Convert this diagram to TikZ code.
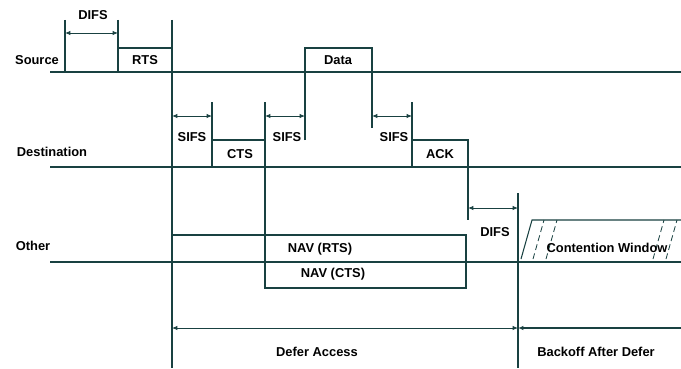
\documentclass[tikz,border=0pt]{standalone}
\usepackage{fontspec}
\setmainfont{Liberation Sans}
\usepackage{tikz}
\usetikzlibrary{arrows.meta}
\definecolor{wire}{RGB}{25,65,65}

\begin{document}
\begin{tikzpicture}[
  x=0.03cm, y=-0.03cm,
  font=\fontsize{11}{13}\selectfont\bfseries,
  ln/.style={draw=wire, line width=1.3pt},
  thin/.style={draw=wire, line width=0.9pt},
  dim/.style={draw=wire, line width=0.7pt, {Latex[length=1.6mm,width=1.3mm]}-{Latex[length=1.6mm,width=1.3mm]}},
  lbl/.style={inner sep=1pt},
  hatch/.style={draw=wire, line width=0.7pt, dash pattern=on 5pt off 3pt}]
\useasboundingbox (0,0) rectangle (681,368);
% station time lines
\coordinate (srcL) at (50,72);   \coordinate (srcR) at (681,72);
\coordinate (dstL) at (50,167);  \coordinate (dstR) at (681,167);
\coordinate (othL) at (50,262);  \coordinate (othR) at (681,262);
\draw[ln] (srcL) -- (srcR);
\draw[ln] (dstL) -- (dstR);
\draw[ln] (othL) -- (othR);
\node[lbl] (src) at (37,60) {Source};
\node[lbl] (dst) at (52,152) {Destination};
\node[lbl] (oth) at (33,246) {Other};
% source: DIFS, RTS, Data
\draw[thin] (65,20) -- (65,72);
\draw[ln] (118,20) -- (118,72);
\draw[ln] (118,72) -- (118,48) -- (172,48);
\draw[ln] (172,20) -- (172,368);
\draw[dim] (65,33) -- (118,33);
\node[lbl] (difs1) at (93,15) {DIFS};
\node[lbl] (rts) at (145,60) {RTS};
\draw[ln] (305,140) -- (305,48) -- (372,48) -- (372,128);
\node[lbl] (data) at (338,60) {Data};
% destination: SIFS, CTS, SIFS, SIFS, ACK
\draw[thin] (212,102) -- (212,167);
\draw[ln] (212,140) -- (265,140);
\draw[thin] (265,102) -- (265,288);
\draw[thin] (412,102) -- (412,167);
\draw[ln] (412,140) -- (468,140) -- (468,220);
\draw[dim] (172,116) -- (212,116);
\draw[dim] (265,116) -- (305,116);
\draw[dim] (372,116) -- (412,116);
\node[lbl] (sifs1) at (192,137) {SIFS};
\node[lbl] (sifs2) at (287,137) {SIFS};
\node[lbl] (sifs3) at (394,137) {SIFS};
\node[lbl] (cts) at (240,154) {CTS};
\node[lbl] (ack) at (440,154) {ACK};
% other: DIFS, NAV, contention window
\draw[thin] (518,193) -- (518,368);
\draw[dim] (468,208) -- (518,208);
\node[lbl] (difs2) at (495,232) {DIFS};
\draw[thin] (172,235) rectangle (466,262);
\draw[thin] (265,262) rectangle (466,288);
\node[lbl] (navrts) at (320,249) {NAV (RTS)};
\node[lbl] (navcts) at (333,274) {NAV (CTS)};
\draw[thin] (521,259) -- (532,220) -- (681,220);
\draw[hatch] (533,259) -- (544,220);
\draw[hatch] (546,259) -- (557,220);
\draw[hatch] (653,259) -- (664,220);
\draw[hatch] (666,259) -- (677,220);
\node[lbl] (cw) at (607,248) {Contention Window};
% defer / backoff
\draw[dim] (172,328) -- (518,328);
\draw[thin, {Latex[length=1.6mm,width=1.3mm]}-] (518,328) -- (681,328);
\node[lbl] (defer) at (317,352) {Defer Access};
\node[lbl] (backoff) at (596,352) {Backoff After Defer};
\end{tikzpicture}
\end{document}
